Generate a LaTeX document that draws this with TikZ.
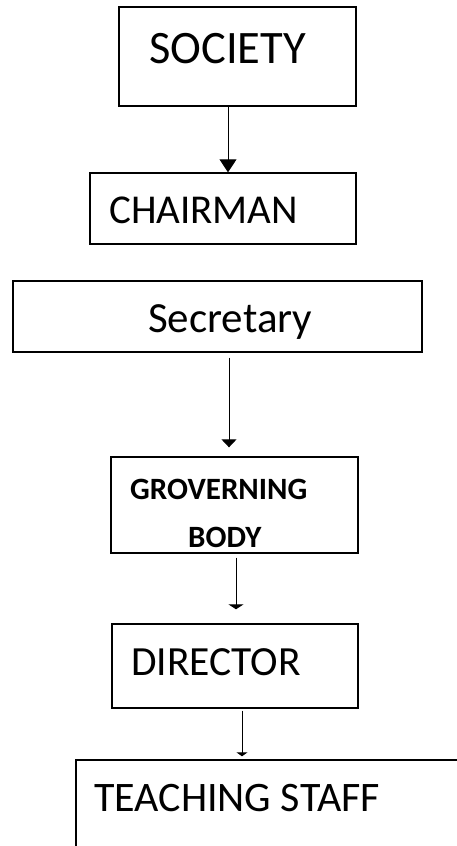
\documentclass[tikz,border=0pt]{standalone}
\usepackage{fontspec}
\setmainfont{Carlito}
\usetikzlibrary{arrows.meta}
\begin{document}
\begin{tikzpicture}[x=1pt,y=-1pt,
  box/.style={draw=black,line width=1.4pt,rectangle,inner sep=0pt},
  lbl/.style={anchor=base west,inner sep=0pt,text=black},
  conn/.style={draw=black,line width=1pt}]
\clip (0,0) rectangle (457,846);
\node[box,minimum width=237pt,minimum height=99pt] (soc) at (237.5,56.5) {};
\node[box,minimum width=266pt,minimum height=71pt] (chair) at (223,208.5) {};
\node[box,minimum width=409pt,minimum height=71pt] (sec) at (217.5,316.5) {};
\node[box,minimum width=247pt,minimum height=96pt] (gov) at (234.5,505) {};
\node[box,minimum width=246pt,minimum height=84pt] (dir) at (235,666) {};
\node[box,minimum width=460pt,minimum height=160pt] (teach) at (306,840) {};
\node[lbl,font=\fontsize{46.5}{50}\selectfont] (tsoc) at (149,63) {SOCIETY};
\node[lbl,font=\fontsize{41}{45}\selectfont] (tchair) at (109,223) {CHAIRMAN};
\node[lbl,font=\fontsize{43}{47}\selectfont] (tsec) at (148,332) {Secretary};
\node[lbl,font=\bfseries\fontsize{31}{34}\selectfont] (tgov1) at (130,499) {GROVERNING};
\node[lbl,font=\bfseries\fontsize{31}{34}\selectfont] (tgov2) at (188,547) {BODY};
\node[lbl,font=\fontsize{41.5}{45}\selectfont] (tdir) at (131,675) {DIRECTOR};
\node[lbl,font=\fontsize{42}{46}\selectfont] (tteach) at (94,811) {TEACHING STAFF};
\draw[conn,-{Triangle[width=17pt,length=13pt]}] (228,0 |- soc.south) -- (228,0 |- chair.north);
\draw[conn,-{Triangle[width=15pt,length=8pt]},shorten <=5pt,shorten >=9pt] (229,0 |- sec.south) -- (229,0 |- gov.north);
\draw[conn,-{Triangle[width=15pt,length=5pt]},shorten <=4pt,shorten >=14pt] (236,0 |- gov.south) -- (236,0 |- dir.north);
\draw[conn,-{Triangle[width=11pt,length=4pt]},shorten <=2pt,shorten >=3pt] (242,0 |- dir.south) -- (242,0 |- teach.north);
\end{tikzpicture}
\end{document}
